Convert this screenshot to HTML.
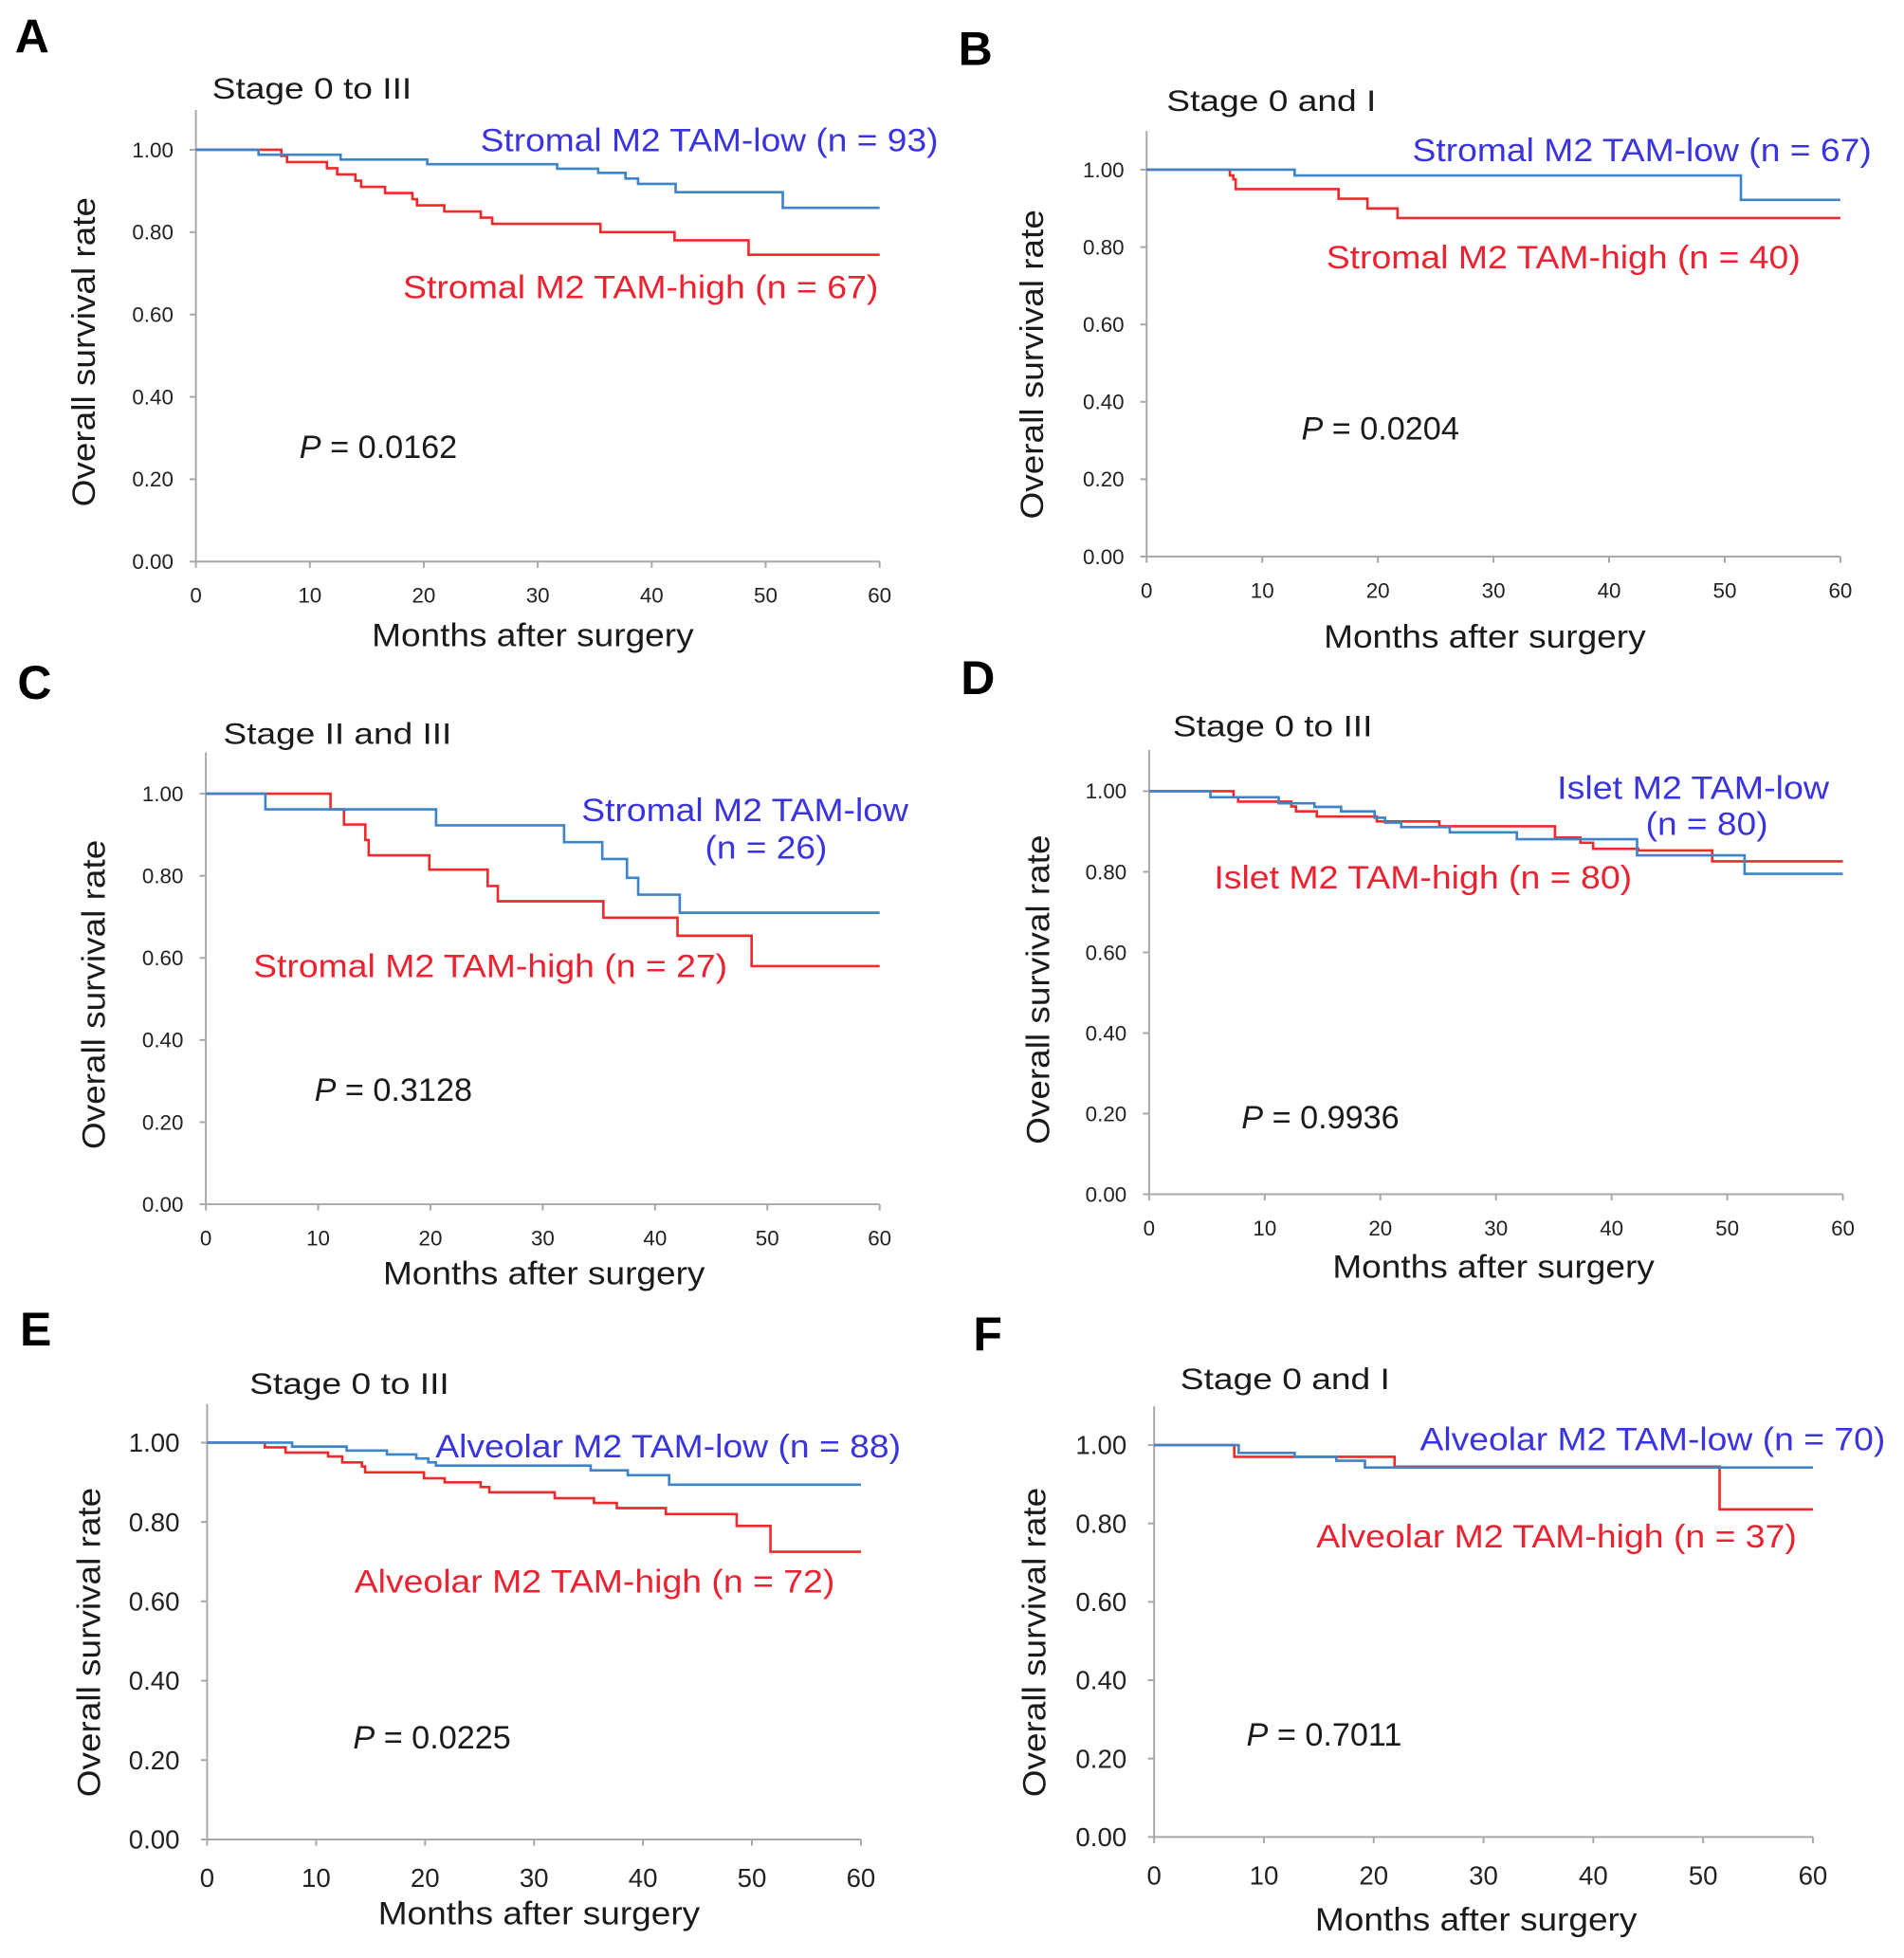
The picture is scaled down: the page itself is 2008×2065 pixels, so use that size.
<!DOCTYPE html>
<html><head><meta charset="utf-8"><style>
html,body{margin:0;padding:0;background:#fff;}
svg{display:block;font-family:"Liberation Sans",Arial,sans-serif;}
</style></head><body>
<svg id="fig" width="2008" height="2065" viewBox="0 0 1526 1569" preserveAspectRatio="none" xmlns="http://www.w3.org/2000/svg"></svg>
<script>
// ---- data (months of event, survival after event) ----
const xTicks = [0,10,20,30,40,50,60];
const yTicks = ["0.00","0.20","0.40","0.60","0.80","1.00"];
const aLowT  = [5.5,12.7,20.3,31.7,35.3,37.7,38.8,42.1,51.5];
const aLowS  = [0.988,0.976,0.965,0.954,0.944,0.93,0.917,0.897,0.859];
const aHighT = [7.5,8.0,11.5,12.4,14.0,14.5,16.6,19.0,19.4,21.8,25.0,26.0,35.5,42.0,48.5];
const aHighS = [0.985,0.97,0.955,0.94,0.925,0.91,0.895,0.88,0.865,0.85,0.835,0.82,0.80,0.78,0.745];
const bLowT  = [12.8,51.4];
const bLowS  = [0.985,0.922];
const bHighT = [7.2,7.5,7.7,16.6,19.1,21.7];
const bHighS = [0.985,0.975,0.95,0.925,0.90,0.875];
const cLowT  = [5.3,20.5,31.9,35.3,37.5,38.5,42.2];
const cLowS  = [0.962,0.923,0.882,0.841,0.795,0.754,0.71];
const cHighT = [11.1,12.3,14.2,14.5,19.9,25.1,26.0,35.4,42.0,48.6];
const cHighS = [0.962,0.925,0.887,0.85,0.815,0.775,0.738,0.698,0.654,0.58];
const dLowT  = [5.3,11.2,14.3,16.6,19.5,20.4,21.8,26.0,31.8,42.2,51.5];
const dLowS  = [0.985,0.97,0.961,0.95,0.934,0.922,0.911,0.898,0.881,0.841,0.795];
const dHighT = [7.3,7.7,12.3,12.7,14.5,19.7,25.1,35.1,37.3,38.4,42.3,48.7];
const dHighS = [0.985,0.974,0.962,0.95,0.937,0.925,0.913,0.885,0.872,0.857,0.853,0.826];
const eLowT  = [7.8,12.8,16.5,19.2,20.3,21.0,35.2,38.6,42.4];
const eLowS  = [0.99,0.98,0.97,0.96,0.95,0.942,0.93,0.918,0.894];
const eHighT = [5.3,7.2,11.1,12.4,14.2,14.5,19.9,21.8,25.1,25.9,31.9,35.5,37.6,42.1,48.6,51.7];
const eHighS = [0.988,0.975,0.965,0.95,0.94,0.925,0.91,0.90,0.888,0.875,0.86,0.848,0.835,0.82,0.79,0.725];
const fLowT  = [7.7,12.8,16.6,19.2];
const fLowS  = [0.98,0.97,0.96,0.943];
const fHighT = [7.3,21.9,51.5];
const fHighS = [0.97,0.945,0.836];

const NS="http://www.w3.org/2000/svg";
const svg=document.getElementById('fig');
const BLUE_LINE="#3f83c9", RED_LINE="#f02a2a", BLUE_TXT="#3a34e0", RED_TXT="#ec2230";

function mk(tag,attrs,parent){const e=document.createElementNS(NS,tag);for(const k in attrs)e.setAttribute(k,attrs[k]);(parent||svg).appendChild(e);return e;}
function txt(s,x,y,size,opts,parent){
  const e=mk('text',Object.assign({x:x,y:y,'font-size':size,fill:'#1a1a1a'},opts||{}),parent);
  e.textContent=s;return e;
}

const panels=[
 {id:'a',letter:'A',lx:12,ly:42,x0:157,x1:705,y1:120,y0:450,top:88,tick:17,title:'Stage 0 to III',tx:170,ty:79,tw:160,
  ytx:76,ytc:282,xtc:427,xty:518,lowT:aLowT,lowS:aLowS,highT:aHighT,highS:aHighS,
  low:[['Stromal M2 TAM-low (n = 93)',752,121,367]],high:[['Stromal M2 TAM-high (n = 67)',704,239,381]],p:['0.0162',240,367]},
 {id:'b',letter:'B',lx:768,ly:52,x0:919,x1:1475,y1:136,y0:446,top:105,tick:17,title:'Stage 0 and I',tx:935,ty:89,tw:168,
  ytx:836,ytc:292,xtc:1190,xty:519,lowT:bLowT,lowS:bLowS,highT:bHighT,highS:bHighS,
  low:[['Stromal M2 TAM-low (n = 67)',1500,129,368]],high:[['Stromal M2 TAM-high (n = 40)',1443,215,380]],p:['0.0204',1043,352]},
 {id:'c',letter:'C',lx:14,ly:560,x0:165,x1:705,y1:636,y0:965,top:603,tick:17,title:'Stage II and III',tx:179,ty:596,tw:183,
  ytx:84,ytc:797,xtc:436,xty:1029,lowT:cLowT,lowS:cLowS,highT:cHighT,highS:cHighS,
  low:[['Stromal M2 TAM-low',728,658,262],['(n = 26)',663,688,98]],high:[['Stromal M2 TAM-high (n = 27)',203,783,380,'start']],p:['0.3128',252,882]},
 {id:'d',letter:'D',lx:770,ly:556,x0:921,x1:1477,y1:634,y0:957,top:601,tick:17,title:'Stage 0 to III',tx:940,ty:590,tw:160,
  ytx:841,ytc:793,xtc:1197,xty:1024,lowT:dLowT,lowS:dLowS,highT:dHighT,highS:dHighS,
  low:[['Islet M2 TAM-low',1466,640,218],['(n = 80)',1417,669,98]],high:[['Islet M2 TAM-high (n = 80)',973,712,335,'start']],p:['0.9936',995,904]},
 {id:'e',letter:'E',lx:16,ly:1078,x0:166,x1:690,y1:1156,y0:1474,top:1125,tick:21,title:'Stage 0 to III',tx:200,ty:1117,tw:160,
  ytx:80,ytc:1316,xtc:432,xty:1542,lowT:eLowT,lowS:eLowS,highT:eHighT,highS:eHighS,
  low:[['Alveolar M2 TAM-low (n = 88)',722,1168,373]],high:[['Alveolar M2 TAM-high (n = 72)',284,1276,385,'start']],p:['0.0225',283,1401]},
 {id:'f',letter:'F',lx:780,ly:1082,x0:925,x1:1453,y1:1158,y0:1472,top:1127,tick:21,title:'Stage 0 and I',tx:946,ty:1113,tw:168,
  ytx:838,ytc:1316,xtc:1183,xty:1547,lowT:fLowT,lowS:fLowS,highT:fHighT,highS:fHighS,
  low:[['Alveolar M2 TAM-low (n = 70)',1511,1162,373]],high:[['Alveolar M2 TAM-high (n = 37)',1055,1240,385,'start']],p:['0.7011',999,1399]}
];

function stepPath(T,S,sx,sy){
  let d='M'+sx(0)+','+sy(1);
  for(let i=0;i<T.length;i++){d+=' H'+sx(T[i])+' V'+sy(S[i]);}
  d+=' H'+sx(60);return d;
}

panels.forEach(p=>{
  const g=mk('g',{});
  
  
  const sx=m=>p.x0+(p.x1-p.x0)*m/60;
  const sy=v=>p.y0-(p.y0-p.y1)*v;
  const L=txt(p.letter,p.lx,p.ly,38,{'font-weight':'bold',fill:'#000'},g);
  
  
  const T=txt(p.title,p.tx,p.ty,24,{textLength:p.tw,lengthAdjust:'spacingAndGlyphs'},g);
  
  
  const ax=mk('path',{d:'M'+p.x0+','+p.top+' V'+p.y0+' H'+p.x1,stroke:'#a8a8a8','stroke-width':1.5,fill:'none'},g);
  
  
  const fs=p.tick, big=fs>18;
  yTicks.forEach(lab=>{
    const y=sy(parseFloat(lab));
    mk('line',{x1:p.x0-5,x2:p.x0,y1:y,y2:y,stroke:'#a8a8a8','stroke-width':1.5},g);
    const t=txt(lab,p.x0-(big?22:18),y+fs*0.35,fs,{'text-anchor':'end',fill:'#222'},g);
    
    
  });
  xTicks.forEach(m=>{
    const x=sx(m);
    mk('line',{x1:x,x2:x,y1:p.y0,y2:p.y0+5,stroke:'#a8a8a8','stroke-width':1.5},g);
    const t=txt(String(m),x,p.y0+(big?38:33),fs,{'text-anchor':'middle',fill:'#222'},g);
    
    
  });
  const xt=txt('Months after surgery',p.xtc,p.xty,26,{'text-anchor':'middle',textLength:258,lengthAdjust:'spacingAndGlyphs'},g);
  
  
  const yt=txt('Overall survival rate',0,0,26,{'text-anchor':'middle',textLength:248,lengthAdjust:'spacingAndGlyphs',transform:'translate('+p.ytx+','+p.ytc+') rotate(-90)'},g);
  
  
  const hi=mk('path',{d:stepPath(p.highT,p.highS,sx,sy),stroke:RED_LINE,'stroke-width':2,fill:'none'},g);
  
  
  const lo=mk('path',{d:stepPath(p.lowT,p.lowS,sx,sy),stroke:BLUE_LINE,'stroke-width':2,fill:'none'},g);
  
  
  p.low.forEach(l=>{
    const t=txt(l[0],l[1],l[2],26,{'text-anchor':l[4]||'end',fill:BLUE_TXT,textLength:l[3],lengthAdjust:'spacingAndGlyphs'},g);
    
    
  });
  p.high.forEach(l=>{
    const t=txt(l[0],l[1],l[2],26,{'text-anchor':l[4]||'end',fill:RED_TXT,textLength:l[3],lengthAdjust:'spacingAndGlyphs'},g);
    
    
  });
  const pv=mk('text',{x:p.p[1],y:p.p[2],'font-size':26,fill:'#1a1a1a'},g);
  
  
  const it=document.createElementNS(NS,'tspan');it.setAttribute('font-style','italic');it.textContent='P';pv.appendChild(it);
  const rest=document.createElementNS(NS,'tspan');rest.textContent=' = '+p.p[0];pv.appendChild(rest);
});
</script>
</body></html>
